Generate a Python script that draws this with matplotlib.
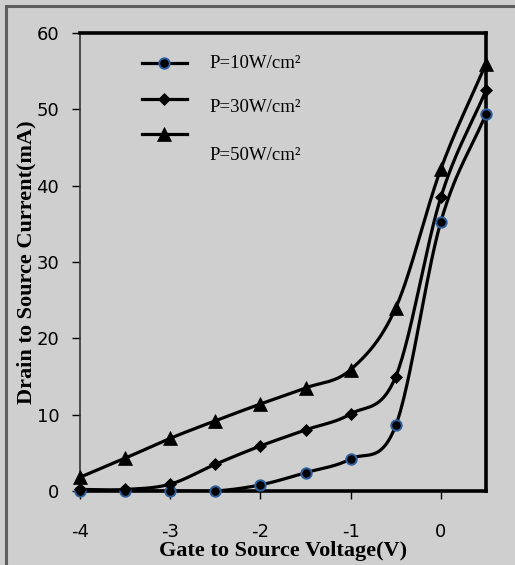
import numpy as np
import matplotlib.pyplot as plt
from matplotlib.patches import Rectangle

# gate-source voltage (V)
vgs = [-4, -3.5, -3, -2.5, -2, -1.5, -1, -0.5, 0, 0.5]

# drain-source current (mA) for each optical power density
ids_10 = [0.0, 0.0, 0.0, 0.0, 0.8, 2.4, 4.2, 8.6, 35.3, 49.4]
ids_30 = [0.2, 0.2, 0.9, 3.5, 5.9, 8.0, 10.1, 15.0, 38.5, 52.5]
ids_50 = [1.8, 4.3, 6.9, 9.2, 11.4, 13.5, 15.9, 24.0, 42.2, 56.0]

labels = ["P=10W/cm\u00b2", "P=30W/cm\u00b2", "P=50W/cm\u00b2"]

BG = "#cfcfcf"
plt.rcParams["axes.unicode_minus"] = False


def smooth(x, y, n=30):
    """Excel-like smoothed line (Catmull-Rom through the points)."""
    x = np.asarray(x, float)
    y = np.asarray(y, float)
    px = np.concatenate([[2 * x[0] - x[1]], x, [2 * x[-1] - x[-2]]])
    py = np.concatenate([[2 * y[0] - y[1]], y, [2 * y[-1] - y[-2]]])
    xs, ys = [], []
    t = np.linspace(0, 1, n)
    for i in range(1, len(px) - 2):
        for arr, out in ((px, xs), (py, ys)):
            p0, p1, p2, p3 = arr[i - 1], arr[i], arr[i + 1], arr[i + 2]
            out.append(0.5 * (2 * p1 + (-p0 + p2) * t
                              + (2 * p0 - 5 * p1 + 4 * p2 - p3) * t ** 2
                              + (-p0 + 3 * p1 - 3 * p2 + p3) * t ** 3))
    return np.concatenate(xs), np.concatenate(ys)


fig = plt.figure(figsize=(5.15, 5.65), dpi=100, facecolor=BG)
fig.patches.append(Rectangle((6 / 515, -0.1), 1.2, 1.1 - 6 / 565, transform=fig.transFigure,
                             fill=False, edgecolor="#5f5f5f", linewidth=2.2))

ax = fig.add_axes([80 / 515, 1 - 491 / 565, 406 / 515, 458 / 565])
ax.set_facecolor(BG)

styles = [
    dict(marker="o", ms=7.5, mfc="black", mec="#2e5f9e", mew=1.4),
    dict(marker="D", ms=6, mfc="black", mec="black", mew=0.5),
    dict(marker="^", ms=9.5, mfc="black", mec="black", mew=0.5),
]

handles = []
for ys, st in zip([ids_10, ids_30, ids_50], styles):
    sx, sy = smooth(vgs, ys)
    ax.plot(sx, sy, color="black", lw=2.3, solid_capstyle="round", zorder=3)
    ax.plot(vgs, ys, ls="none", zorder=4, clip_on=False, **st)
    h, = ax.plot([], [], color="black", lw=2.3, **st)
    handles.append(h)

ax.set_xlim(-4, 0.5)
ax.set_ylim(0, 60)
ax.set_xticks([-4, -3, -2, -1, 0])
ax.set_yticks(range(0, 61, 10))
ax.tick_params(axis="y", direction="out", length=6, width=1, pad=9, labelsize=13)
ax.tick_params(axis="x", direction="out", length=6, width=1, pad=17, labelsize=13)

for side in ["top", "right", "bottom"]:
    ax.spines[side].set_linewidth(2.6)
ax.spines["left"].set_linewidth(1.2)
ax.spines["left"].set_color("#333333")

ax.set_xlabel("Gate to Source Voltage(V)", family="Liberation Serif",
              fontweight="bold", fontsize=16, labelpad=0)
ax.set_ylabel("Drain to Source Current(mA)", family="Liberation Serif",
              fontweight="bold", fontsize=16, labelpad=0)

# legend samples (Excel-style, texts sit apart from their samples)
leg = ax.legend(handles, ["", "", ""], loc="upper left", frameon=False,
                bbox_to_anchor=(0.115, 0.985), handlelength=2.7,
                labelspacing=1.05, fontsize=12)
for lab, yy in zip(labels, [63, 108, 155]):
    fig.text(209 / 515, 1 - yy / 565, lab, family="Liberation Serif",
             fontsize=13.5, va="center", ha="left")

fig.savefig("out.png", dpi=100, facecolor=BG)
